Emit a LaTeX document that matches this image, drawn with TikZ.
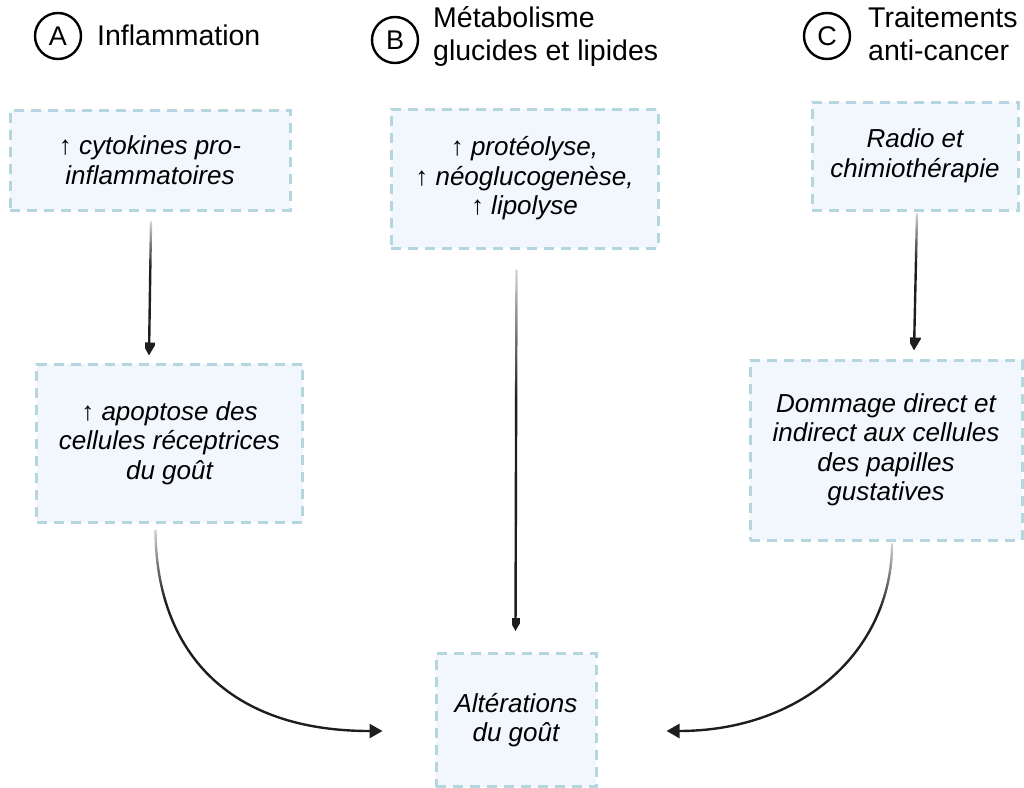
\documentclass[tikz,border=0pt]{standalone}
\usepackage{fontspec}
\setmainfont{Liberation Sans}
\usetikzlibrary{arrows.meta,calc,fadings}

% arrows start pale and are fully dark from about a third of their length on
\pgfdeclareverticalshading{arrowshade}{100bp}{color(0bp)=(white); color(25bp)=(white);
  color(57bp)=(white); color(75bp)=(black!82); color(100bp)=(black!82)}
\tikzfading[name=arrowfade, shading=arrowshade]

\definecolor{boxline}{HTML}{B5D6DF}
\definecolor{boxfill}{HTML}{F2F7FD}
\definecolor{ink}{HTML}{1E1E1E}

\begin{document}
\begin{tikzpicture}[x=1pt,y=-1pt,
  infobox/.style={draw=boxline, fill=boxfill, line width=3pt,
    dash pattern=on 10pt off 7pt, rectangle, inner sep=0pt,
    align=center, font=\itshape\fontsize{26}{29.5}\selectfont, text=black},
  header/.style={font=\fontsize{28.5}{33}\selectfont, align=left, text=black, inner sep=0pt},
  badge/.style={circle, draw=black, line width=2.4pt, minimum size=46pt, inner sep=0pt,
    font=\fontsize{27}{30}\selectfont},
  flow/.style={draw=ink, line width=2.4pt, path fading=arrowfade,
    -{Triangle[length=13pt,width=14pt]}}]

\useasboundingbox (0,0) rectangle (1024,787);

% column headings
\node[badge] (ca) at (58,36) {A};
\node[header, anchor=base west] (ha) at (97,45) {Inflammation};
\node[badge] (cb) at (395,40) {B};
\node[header, anchor=base west] (hb) at (433,60) {Métabolisme\\glucides et lipides};
\node[badge] (cc) at (827,36) {C};
\node[header, anchor=base west] (hc) at (868,60) {Traitements\\anti-cancer};

% boxes
\node[infobox, minimum width=280pt, minimum height=100pt] (b1) at (150,160)
  {↑ cytokines pro-\\inflammatoires};
\node[infobox, minimum width=266pt, minimum height=158pt] (b2) at (169.5,443)
  {↑ apoptose des\\cellules réceptrices\\du goût};
\node[infobox, minimum width=267pt, minimum height=139pt] (b3) at (524.5,178.5)
  {↑ protéolyse,\\↑ néoglucogenèse,\\↑ lipolyse};
\node[infobox, minimum width=206pt, minimum height=108pt] (b4) at (915,156)
  {Radio et\\chimiothérapie};
\node[infobox, minimum width=272pt, minimum height=180pt] (b5) at (886,450)
  {Dommage direct et\\indirect aux cellules\\des papilles\\gustatives};
\node[infobox, minimum width=160pt, minimum height=133pt] (b6) at (516,720)
  {Altérations\\du goût};

% connectors
\draw[flow] ($(b1.south)+(1,10)$) -- ($(b1.south |- b2.north)+(-1,-7)$);
\draw[flow] ($(b3.south)+(-8,20)$) -- ($(b6.north)+(-0.5,-21)$);
\draw[flow] ($(b4.south)+(2,2)$) -- ($(b4.south |- b5.north)+(-1,-8)$);
\draw[flow] ($(b2.south)+(-14,6)$) .. controls ($(b2.south)+(-14,118)$) and ($(b6.west)+(-216,11)$) .. ($(b6.west)+(-52,11)$);
\draw[flow] ($(b5.south)+(6,2)$) .. controls ($(b5.south)+(6,110)$) and ($(b6.east)+(204,11)$) .. ($(b6.east)+(69,11)$);
\end{tikzpicture}
\end{document}
